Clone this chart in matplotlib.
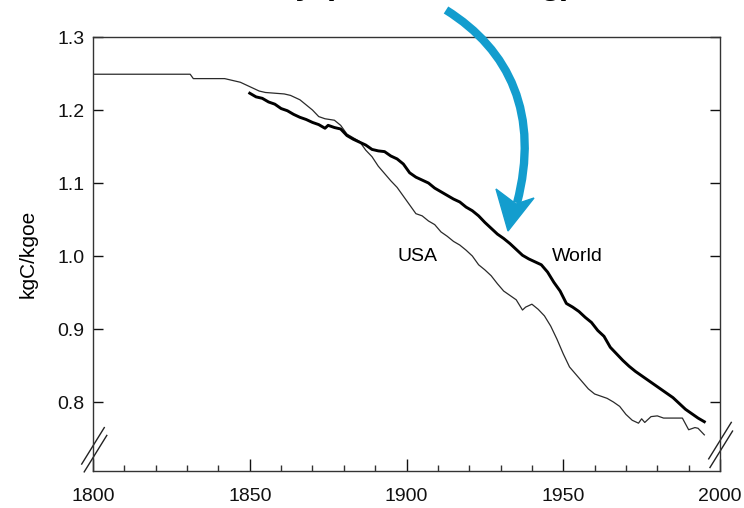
import matplotlib
matplotlib.use("Agg")
import matplotlib.pyplot as plt
from matplotlib.path import Path
from matplotlib.patches import PathPatch, Polygon

plt.rcParams['font.family'] = ['Liberation Sans', 'DejaVu Sans']

# USA carbon intensity (kgC/kgoe)
usa_anos = [1800, 1831, 1832, 1842, 1845, 1847, 1850, 1853, 1855, 1858, 1861, 1863,
            1866, 1868, 1870, 1872, 1874, 1877, 1879, 1881, 1883, 1885, 1887, 1889,
            1891, 1893, 1895, 1897, 1899, 1901, 1903, 1905, 1907, 1909, 1911, 1913,
            1915, 1917, 1919, 1921, 1923, 1925, 1927, 1929, 1931, 1933, 1935, 1937,
            1938, 1940, 1942, 1944, 1946, 1948, 1950, 1952, 1954, 1956, 1958, 1960,
            1962, 1964, 1966, 1968, 1970, 1972, 1974, 1975, 1976, 1978, 1980, 1982,
            1985, 1988, 1989, 1990, 1992, 1993, 1995]
usa_valores = [1.249, 1.249, 1.243, 1.243, 1.240, 1.238, 1.232, 1.226, 1.224, 1.223, 1.222, 1.220,
               1.214, 1.207, 1.200, 1.191, 1.188, 1.186, 1.179, 1.167, 1.162, 1.157, 1.145, 1.136,
               1.123, 1.113, 1.103, 1.094, 1.082, 1.070, 1.058, 1.055, 1.048, 1.043, 1.033, 1.027,
               1.020, 1.015, 1.008, 1.000, 0.988, 0.981, 0.973, 0.962, 0.952, 0.946, 0.940, 0.926,
               0.930, 0.934, 0.927, 0.918, 0.904, 0.886, 0.866, 0.848, 0.838, 0.828, 0.818, 0.811,
               0.808, 0.805, 0.800, 0.794, 0.783, 0.775, 0.771, 0.777, 0.772, 0.780, 0.781, 0.778,
               0.778, 0.778, 0.770, 0.762, 0.765, 0.764, 0.755]

# World carbon intensity (kgC/kgoe)
mundo_anos = [1850, 1852, 1854, 1856, 1858, 1860, 1862, 1864, 1866, 1868, 1870, 1872,
              1874, 1875, 1877, 1879, 1881, 1883, 1885, 1887, 1889, 1891, 1893, 1895,
              1897, 1899, 1901, 1903, 1905, 1907, 1909, 1911, 1913, 1915, 1917, 1919,
              1921, 1923, 1925, 1927, 1929, 1931, 1933, 1935, 1937, 1939, 1941, 1943,
              1945, 1947, 1949, 1951, 1953, 1955, 1957, 1959, 1961, 1963, 1965, 1967,
              1969, 1971, 1973, 1975, 1977, 1979, 1981, 1983, 1985, 1987, 1989, 1991,
              1993, 1995]
mundo_valores = [1.223, 1.218, 1.216, 1.211, 1.208, 1.202, 1.199, 1.194, 1.190, 1.187, 1.183, 1.180,
                 1.175, 1.179, 1.176, 1.174, 1.165, 1.160, 1.156, 1.152, 1.146, 1.144, 1.143, 1.137,
                 1.133, 1.126, 1.114, 1.108, 1.104, 1.100, 1.093, 1.088, 1.083, 1.078, 1.074, 1.067,
                 1.062, 1.055, 1.046, 1.038, 1.030, 1.024, 1.017, 1.009, 1.001, 0.996, 0.992, 0.988,
                 0.978, 0.964, 0.952, 0.935, 0.930, 0.924, 0.916, 0.909, 0.898, 0.890, 0.875, 0.866,
                 0.857, 0.849, 0.842, 0.836, 0.830, 0.824, 0.818, 0.812, 0.806, 0.798, 0.790, 0.784,
                 0.778, 0.773]

y_ticks = [0.8, 0.9, 1.0, 1.1, 1.2, 1.3]
y_labels = ['0.8', '0.9', '1.0', '1.1', '1.2', '1.3']
x_ticks = [1800, 1850, 1900, 1950, 2000]

W, H = 744, 508


def px(x, y):
    # pixel (from top-left) -> figure fraction
    return (x / W, 1 - y / H)


fig = plt.figure(figsize=(W / 100, H / 100), dpi=100)
ax = fig.add_axes([93 / W, 1 - 471 / H, (720 - 93) / W, (471 - 37) / H])

ax.plot(usa_anos, usa_valores, color='#2a2a2a', lw=0.9)
ax.plot(mundo_anos, mundo_valores, color='black', lw=2.1)

ax.set_xlim(1800, 2000)
ax.set_ylim(0.7055, 1.3)
ax.set_xticks(x_ticks)
ax.set_xticks(range(1810, 2000, 10), minor=True)
ax.set_yticks(y_ticks)
ax.set_yticklabels(y_labels)

ax.tick_params(axis='x', which='major', direction='in', length=9, width=1, pad=12,
               labelsize=14, colors='#111111')
ax.tick_params(axis='x', which='minor', direction='in', length=4.5, width=1, colors='#333333')
ax.tick_params(axis='y', which='major', direction='in', length=7, width=1, pad=6,
               labelsize=14, right=True, colors='#111111')
for s in ax.spines.values():
    s.set_linewidth(1.0)
    s.set_color('#333333')

ax.set_ylabel('kgC/kgoe', fontsize=15, labelpad=14)

ax.text(1903.5, 1.0, 'USA', fontsize=14, ha='center', va='center')
ax.text(1954.5, 1.0, 'World', fontsize=14, ha='center', va='center')

# marcas de quebra do eixo
for cx, cy in [(0.0, 0.058), (0.004, 0.040), (1.0, 0.07), (1.002, 0.05)]:
    ax.plot([cx - 0.018, cx + 0.018], [cy - 0.042, cy + 0.042], transform=ax.transAxes,
            color='#222222', lw=1.0, clip_on=False)

# titulo cortado no topo (so as descendentes aparecem)
fig.text(572 / W, 1 + 6 / H, 'Carbon intensity (decarbonizing)', ha='right', va='baseline',
         fontsize=24, fontweight='bold', color='black')

# seta azul
azul = '#139dce'
shaft = Path([px(446, 10), px(510, 50), px(540, 115), px(517, 203)],
             [Path.MOVETO, Path.CURVE4, Path.CURVE4, Path.CURVE4])
fig.patches.append(PathPatch(shaft, transform=fig.transFigure, facecolor='none',
                             edgecolor=azul, lw=6, capstyle='butt'))
head = Polygon([px(508, 231), px(496, 189), px(516, 204), px(534, 198)], closed=True,
               transform=fig.transFigure, facecolor=azul, edgecolor=azul, lw=1)
fig.patches.append(head)

fig.savefig('out.png', dpi=100)
